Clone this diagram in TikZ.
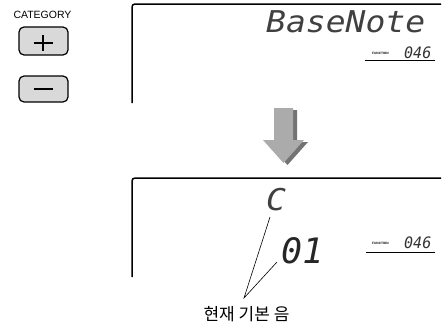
\documentclass[tikz,border=0pt]{standalone}
\usepackage{fontspec}
\usetikzlibrary{calc}
\setmainfont{Liberation Sans}
\newfontfamily\lcd{DejaVu Sans Mono}
\newfontfamily\seg{DejaVu Sans Mono}
\newfontfamily\kor{Noto Sans CJK KR}
\begin{document}
\begin{tikzpicture}[x=1pt,y=-1pt,
  btn/.style={draw=black,line width=1.2pt,fill=black!15,rounded corners=5pt},
  sign/.style={line width=2.6pt},
  frame/.style={line width=1.5pt,rounded corners=3pt},
  uline/.style={line width=1pt},
  lbl/.style={inner sep=0pt},
  pointer/.style={line width=0.6pt}]
\useasboundingbox (0,0) rectangle (442,324);
% category buttons
\node[lbl,anchor=base] (cat) at (42.5,19) {\fontsize{10.5}{11}\selectfont CATEGORY};
\draw[btn] (19,27) rectangle (68,55);
\coordinate (pc) at (43,43);
\draw[sign] ($(pc)+(-9.5,0)$) -- ($(pc)+(9.5,0)$);
\draw[sign] ($(pc)+(0,-8)$) -- ($(pc)+(0,8)$);
\draw[btn] (19,76) rectangle (68,102);
\coordinate (mc) at (43,89);
\draw[sign] ($(mc)+(-9.5,0)$) -- ($(mc)+(9.5,0)$);
% top display
\draw[frame] (132,103) -- (132,4) -- (441,4);
\node[lbl,anchor=base west,text=black!75] (bn) at (266,32) {\scalebox{1.1}[1]{\fontsize{30}{30}\lcd\itshape BaseNote}};
\node[lbl,anchor=base west] (f1) at (372,54) {\fontsize{3.2}{3.2}\selectfont\bfseries FUNCTION};
\node[lbl,anchor=base west,text=black!80] (n1) at (404,58) {\scalebox{1}[1.05]{\fontsize{15}{15}\seg\itshape 046}};
\draw[uline] (365,60) -- (435,60);
% arrow
\fill[black!55] (278,110) -- (297,110) -- (297,142) -- (308,142) -- (287.5,165) -- (267,142) -- (278,142) -- cycle;
\fill[black!33] (274,108) -- (293,108) -- (293,140) -- (304,140) -- (283.5,163) -- (263,140) -- (274,140) -- cycle;
% bottom display
\draw[frame] (132,277) -- (132,178) -- (441,178);
\node[lbl,anchor=base west,text=black!75] (cn) at (266,210) {\scalebox{1.1}[1]{\fontsize{30}{30}\lcd\itshape C}};
\node[lbl,anchor=base west,text=black!85] (val) at (281,263) {\fontsize{35}{35}\seg\itshape 01};
\node[lbl,anchor=base west] (f2) at (372,244) {\fontsize{3.2}{3.2}\selectfont\bfseries FUNCTION};
\node[lbl,anchor=base west,text=black!80] (n2) at (404,248) {\scalebox{1}[1.05]{\fontsize{15}{15}\seg\itshape 046}};
\draw[uline] (366,252) -- (435,252);
% label and pointers
\node[lbl,anchor=base] (cur) at (246.5,320) {\fontsize{17}{17}\kor 현재 기본 음};
\coordinate (tip) at (244,298);
\coordinate (pC) at (270,217);
\coordinate (p01) at (277,262);
\draw[pointer] (pC) -- (tip) -- (p01);
\end{tikzpicture}
\end{document}
